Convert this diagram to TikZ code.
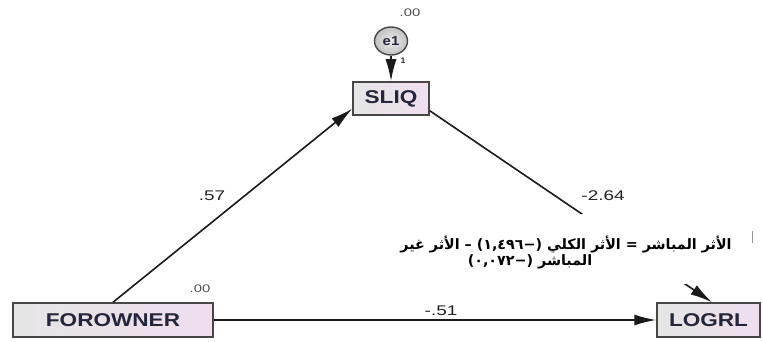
\documentclass[tikz,border=0pt]{standalone}
\usepackage{graphicx}
\usepackage{fontspec}
\setmainfont{Liberation Sans}
\newfontfamily\arabicfont[Script=Arabic]{DejaVu Sans}
\TeXXeTstate=1
\usetikzlibrary{arrows.meta,shapes.geometric}
\definecolor{boxline}{HTML}{474747}
\definecolor{boxtext}{HTML}{26263A}
\definecolor{linec}{HTML}{1A1A1A}
\definecolor{labc}{HTML}{222222}
\tikzset{
  varbox/.style={draw=boxline, line width=1.5pt, left color=black!10!white, right color=violet!13!white,
    inner sep=0pt, text=boxtext, font=\fontsize{18.5}{18.5}\selectfont\bfseries},
  errnode/.style={ellipse, draw=boxline, line width=1.4pt, inner color=black!8, outer color=black!24,
    minimum width=33pt, minimum height=28pt, inner sep=0pt, text=boxtext,
    font=\fontsize{13}{13}\selectfont\bfseries},
  arr/.style={draw=linec, line width=1.6pt, -{Latex[length=22pt,width=11pt]}},
  lab/.style={text=labc, inner sep=0pt, font=\fontsize{14}{14}\selectfont},
  smalllab/.style={text=labc!80, inner sep=0pt, font=\fontsize{11}{11}\selectfont},
  arnote/.style={inner sep=0pt, text=black, font=\arabicfont\bfseries\fontsize{14.3}{16}\selectfont}
}
\begin{document}
\begin{tikzpicture}[x=1pt,y=-1pt]
\useasboundingbox[fill=white] (0,0) rectangle (763,342);
% variables
\node[varbox, minimum width=200pt, minimum height=34pt] (fo) at (113,320) {\scalebox{1.22}[1]{FOROWNER}};
\node[varbox, minimum width=76pt, minimum height=33pt] (sliq) at (391,98.5) {\scalebox{1.22}[1]{SLIQ}};
\node[varbox, minimum width=103pt, minimum height=34pt] (lg) at (708.5,320) {\scalebox{1.22}[1]{LOGRL}};
\node[errnode] (e1) at (391,41) {\scalebox{1.15}[1]{e1}};
% connectors
\draw[arr] (e1) -- (sliq);
\draw[arr] (fo.north) -- ([yshift=7pt]sliq.south west);
\draw[arr] ([yshift=5pt]sliq.south east) -- ([xshift=3.5pt]lg.north);
\draw[arr] (fo.east) -- (lg.west);
% labels
\node[smalllab] (v1) at (410,13) {\scalebox{1.35}[1]{.00}};
\node[text=labc, inner sep=0pt, font=\fontsize{8}{8}\selectfont\bfseries] (w1) at (403,61) {1};
\node[smalllab] (v2) at (200,289) {\scalebox{1.35}[1]{.00}};
\node[lab] (p1) at (212,196) {\scalebox{1.35}[1]{.57}};
\node[lab] (p2) at (603,196) {\scalebox{1.35}[1]{-2.64}};
\node[lab] (p3) at (441,311) {\scalebox{1.35}[1]{-.51}};
% note box
\node[fill=white, minimum width=358pt, minimum height=70pt, inner sep=0pt] (nb) at (569,249) {};
\draw[black!40, line width=0.8pt] (752,231) -- (752,243);
\node[arnote] (t1) at (566,244) {\beginR الأثر المباشر = الأثر الكلي \beginL(−١,٤٩٦)\endL{} – الأثر غير\endR};
\node[arnote] (t2) at (530,262) {\beginR المباشر \beginL(−٠,٠٧٢)\endL{}\endR};
\end{tikzpicture}
\end{document}
